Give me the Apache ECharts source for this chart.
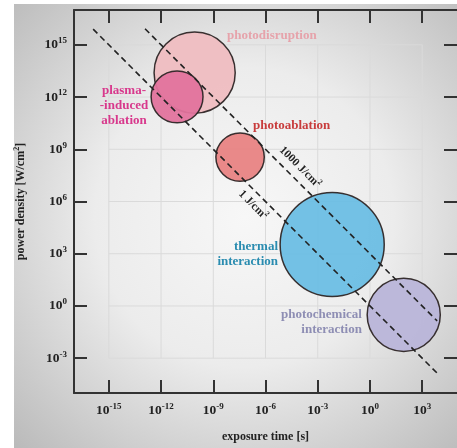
<!DOCTYPE html>
<html>
<head>
<meta charset="utf-8">
<script src="https://cdn.jsdelivr.net/npm/echarts@6/dist/echarts.min.js"></script>
<style>html,body{margin:0;padding:0;background:#fff}#c{width:457px;height:448px}</style>
</head>
<body>
<div id="c"></div>
<script>
// ---- data (log10 values) ----
const regimes = ['photodisruption', 'plasma-induced ablation', 'photoablation', 'thermal interaction', 'photochemical interaction'];
const logTime = [-10.07, -11.08, -7.46, -2.17, 1.94];      // log10 exposure time [s]
const logPower = [13.4, 12.01, 8.55, 3.53, -0.51];          // log10 power density [W/cm2]
const spanDecades = [2.33, 1.49, 1.39, 2.99, 2.1];          // radius of regime, decades
const xTicks = [-15, -12, -9, -6, -3, 0, 3];
const yTicks = [-3, 0, 3, 6, 9, 12, 15];
const fluenceLabels = ['1 J/cm²', '1000 J/cm²'];
const fluenceLog = [0, 3];                                   // log10 fluence J/cm2
const line1J = [[-15.9, 15.9], [3.86, -3.86]];
const line1000J = [[-12.92, 15.92], [3.86, -0.86]];

// ---- styles / annotation placement ----
const FONT = '"Liberation Serif", "DejaVu Serif", serif';
const fills = ['#efbdc1', '#e1739d', '#e88383', '#6cbee4', '#b9b5d9'];
const textColors = ['#e6a3ab', '#d8388c', '#c83c3c', '#2a8cb0', '#8e8eb4'];
const labelText = ['photodisruption', 'plasma-\n-induced\nablation', 'photoablation', 'thermal\ninteraction', 'photochemical\ninteraction'];
const labelAnchor = [[-8.21, 15.51], [-14.13, 11.51], [-6.72, 10.37], [-5.28, 3.0], [-0.46, -0.94]];
const labelAlign = ['left', 'center', 'left', 'right', 'right'];
const fluenceAnchor = [[-6.72, 5.8], [-4.02, 7.97]];

const chart = echarts.init(document.getElementById('c'), null, {renderer: 'canvas'});

const tickLabel = {
  show: true,
  fontFamily: FONT,
  color: '#222',
  formatter: v => '{b|10}{s|' + v + '}',
  rich: {
    b: {fontFamily: FONT, fontWeight: 'bold', fontSize: 13.5, color: '#222'},
    s: {fontFamily: FONT, fontWeight: 'bold', fontSize: 9, color: '#222', padding: [0, 0, 8, 0]}
  }
};
const axisLine = {show: true, onZero: false, lineStyle: {color: '#333', width: 2}};
const tickStyle = {show: true, inside: true, length: 13, lineStyle: {color: '#333', width: 2}};

const option = {
  backgroundColor: '#ffffff',
  animation: false,
  graphic: [{
    type: 'rect', z: -100, silent: true,
    shape: {x: 14, y: 4, width: 443, height: 444},
    style: {fill: new echarts.graphic.RadialGradient(0.52, 0.48, 0.75, [
      {offset: 0, color: '#f7f7f7'},
      {offset: 0.45, color: '#ececec'},
      {offset: 1, color: '#b8b8b8'}
    ])}
  }],
  grid: {left: 74, top: 10, right: 0, bottom: 53},
  xAxis: [{
    type: 'value', min: -17, max: 5, position: 'bottom',
    name: 'exposure time [s]', nameLocation: 'middle', nameGap: 38,
    nameTextStyle: {fontFamily: FONT, fontWeight: 'bold', fontSize: 12, color: '#222'},
    axisLine: axisLine,
    axisTick: Object.assign({customValues: xTicks}, tickStyle),
    axisLabel: Object.assign({customValues: xTicks, margin: 9}, tickLabel),
    splitLine: {show: false}
  }, {
    type: 'value', min: -17, max: 5, position: 'top',
    axisLine: axisLine,
    axisTick: Object.assign({customValues: xTicks}, tickStyle),
    axisLabel: {show: false},
    splitLine: {show: false}
  }],
  yAxis: [{
    type: 'value', min: -5, max: 17, position: 'left',
    name: '{n|power density [W/cm}{s|2}{n|]}', nameLocation: 'middle', nameGap: 46,
    nameRotate: 90,
    nameTextStyle: {
      fontFamily: FONT, color: '#222',
      rich: {
        n: {fontFamily: FONT, fontWeight: 'bold', fontSize: 12, color: '#222'},
        s: {fontFamily: FONT, fontWeight: 'bold', fontSize: 8, color: '#222', padding: [0, 0, 7, 0]}
      }
    },
    axisLine: axisLine,
    axisTick: Object.assign({customValues: yTicks}, tickStyle),
    axisLabel: Object.assign({customValues: yTicks, margin: 7}, tickLabel),
    splitLine: {show: false}
  }, {
    type: 'value', min: -5, max: 17, position: 'right',
    axisLine: {show: false, onZero: false},
    axisTick: Object.assign({customValues: yTicks}, tickStyle),
    axisLabel: {show: false},
    splitLine: {show: false}
  }],
  series: [
    {
      // faint inner grid
      type: 'custom', z: 1, silent: true,
      data: [0],
      renderItem: function (params, api) {
        const children = [];
        const x0 = xTicks[0], x1 = xTicks[xTicks.length - 1];
        const y0 = yTicks[0], y1 = yTicks[yTicks.length - 1];
        xTicks.forEach(function (t) {
          const a = api.coord([t, y0]), b = api.coord([t, y1]);
          children.push({type: 'line', shape: {x1: a[0], y1: a[1], x2: b[0], y2: b[1]}, style: {stroke: '#dadada', lineWidth: 1}});
        });
        yTicks.forEach(function (t) {
          const a = api.coord([x0, t]), b = api.coord([x1, t]);
          children.push({type: 'line', shape: {x1: a[0], y1: a[1], x2: b[0], y2: b[1]}, style: {stroke: '#dadada', lineWidth: 1}});
        });
        return {type: 'group', children: children};
      }
    },
    {
      type: 'custom', z: 3, silent: true,
      data: regimes.map((n, i) => [logTime[i], logPower[i], spanDecades[i], i]),
      renderItem: function (params, api) {
        const i = api.value(3);
        const c = api.coord([api.value(0), api.value(1)]);
        const r = api.size([api.value(2), 0])[0];
        return {
          type: 'circle',
          shape: {cx: c[0], cy: c[1], r: r},
          style: {fill: fills[i], stroke: '#2e2626', lineWidth: 1.5, opacity: 0.95}
        };
      }
    },
    {
      type: 'line', z: 5, silent: true, symbol: 'none', name: fluenceLabels[0],
      data: line1J,
      lineStyle: {color: '#222', width: 1.6, type: [6, 4]}
    },
    {
      type: 'line', z: 5, silent: true, symbol: 'none', name: fluenceLabels[1],
      data: line1000J,
      lineStyle: {color: '#222', width: 1.6, type: [6, 4]}
    },
    {
      // regime labels
      type: 'custom', z: 6, silent: true,
      data: regimes.map((n, i) => [labelAnchor[i][0], labelAnchor[i][1], i]),
      renderItem: function (params, api) {
        const i = api.value(2);
        const c = api.coord([api.value(0), api.value(1)]);
        return {
          type: 'text', x: c[0], y: c[1],
          style: {
            text: labelText[i], fill: textColors[i], fontFamily: FONT, fontWeight: 'bold',
            fontSize: 13, lineHeight: 15, align: labelAlign[i], verticalAlign: 'middle'
          }
        };
      }
    },
    {
      // fluence labels
      type: 'custom', z: 6, silent: true,
      data: fluenceLog.map((f, i) => [fluenceAnchor[i][0], fluenceAnchor[i][1], i]),
      renderItem: function (params, api) {
        const i = api.value(2);
        const c = api.coord([api.value(0), api.value(1)]);
        const parts = fluenceLabels[i].split('²');
        return {
          type: 'text', x: c[0], y: c[1], rotation: -Math.PI / 4,
          style: {
            text: '{n|' + parts[0] + '}{s|2}',
            align: 'center', verticalAlign: 'middle',
            rich: {
              n: {fontFamily: FONT, fontWeight: 'bold', fontSize: 11.5, fill: '#222'},
              s: {fontFamily: FONT, fontWeight: 'bold', fontSize: 7.5, fill: '#222', padding: [0, 0, 7, 0]}
            }
          }
        };
      }
    }
  ]
};
chart.setOption(option);
</script>
</body>
</html>
